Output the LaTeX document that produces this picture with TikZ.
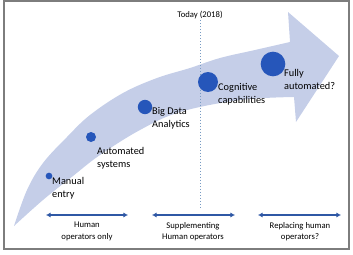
\documentclass[tikz,border=0pt]{standalone}
\usepackage{fontspec}
\setmainfont{Carlito}
\usetikzlibrary{arrows.meta}

\definecolor{bandblue}{RGB}{197,206,232}
\definecolor{dotblue}{RGB}{38,86,186}
\definecolor{spanblue}{RGB}{47,88,165}
\definecolor{todayblue}{RGB}{120,155,195}
\definecolor{framegray}{RGB}{125,125,125}

\begin{document}
\begin{tikzpicture}[x=0.3mm, y=-0.3mm,
  dot/.style={circle, fill=dotblue, inner sep=0pt},
  lbl/.style={anchor=north west, align=left, inner sep=0pt, font=\fontsize{8.8}{11}\selectfont},
  phase/.style={anchor=north, align=center, inner sep=0pt, font=\fontsize{7.4}{9.6}\selectfont},
  span/.style={spanblue, line width=0.55mm, {Latex[length=1.4mm,width=1.6mm]}-{Latex[length=1.4mm,width=1.6mm]}}]

\useasboundingbox (0,0) rectangle (353,255);
\draw[framegray, line width=0.4mm] (4,1) rectangle (349,249);

% the big curved arrow
\fill[bandblue] plot[smooth, tension=0.6] coordinates {(14,226) (27,190) (43,163) (67,137) (90,115) (123,93) (157,78) (190,68) (220,58) (255,50) (290,42)}
  -- (288,12) -- (339,56) -- (296,122) -- (294,97)
  -- plot[smooth, tension=0.6] coordinates {(294,97) (240,100) (180,112) (140,130) (100,155) (73,176) (43,200) (14,226)} -- cycle;

% today marker
\node[inner sep=1pt, font=\fontsize{7.4}{9}\selectfont] (today) at (200,15) {Today (2018)};
\coordinate (todayend) at (200,207);
\draw[todayblue, dotted, line width=0.2mm] (today.south) -- (todayend);

% stages
\node[dot, minimum size=2.0mm] (manual) at (49,176) {};
\node[dot, minimum size=3.0mm] (autosys) at (91,137) {};
\node[dot, minimum size=4.3mm] (bigdata) at (145,107) {};
\node[dot, minimum size=6.0mm] (cogn) at (208,82) {};
\node[dot, minimum size=7.4mm] (fully) at (273,64) {};

\node[lbl] (manuallbl) at (52,177) {Manual\\entry};
\node[lbl] (autosyslbl) at (97,147) {Automated\\systems};
\node[lbl] (bigdatalbl) at (152,107) {Big Data\\Analytics};
\node[lbl] (cognlbl) at (218,83) {Cognitive\\capabilities};
\node[lbl] (fullylbl) at (284,69) {Fully\\automated?};

% phases
\coordinate (p1l) at (46,215);
\coordinate (p1r) at (128,215);
\coordinate (p2l) at (152,215);
\coordinate (p2r) at (235,215);
\coordinate (p3l) at (258,215);
\coordinate (p3r) at (341,215);

\draw[span] (p1l) -- (p1r);
\draw[span] (p2l) -- (p2r);
\draw[span] (p3l) -- (p3r);

\node[phase] (p1) at (87,222) {Human\\operators only};
\node[phase] (p2) at (193,222) {Supplementing\\Human operators};
\node[phase] (p3) at (300,222) {Replacing human\\operators?};

\end{tikzpicture}
\end{document}
